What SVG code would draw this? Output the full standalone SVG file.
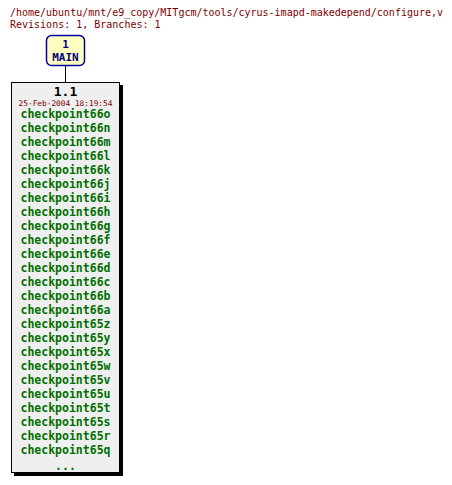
<svg xmlns="http://www.w3.org/2000/svg" width="452" height="485" viewBox="0 0 452 485">
<style>
.hdr{font-family:"DejaVu Sans Mono","Liberation Mono",monospace;font-size:10px;fill:#800000}
.tag{font-family:"DejaVu Sans Mono","Liberation Mono",monospace;font-weight:bold;font-size:11.5px;fill:#007000;text-anchor:middle}
.br{font-family:"DejaVu Sans Mono","Liberation Mono",monospace;font-weight:bold;font-size:11px;fill:#000080;text-anchor:middle}
</style>
<rect width="452" height="485" fill="#ffffff"/>
<text class="hdr" x="10" y="16" textLength="433" lengthAdjust="spacingAndGlyphs">/home/ubuntu/mnt/e9_copy/MITgcm/tools/cyrus-imapd-makedepend/configure,v</text>
<text class="hdr" x="10" y="28">Revisions: 1, Branches: 1</text>
<g id="connectors">
<line x1="65.5" y1="66" x2="65.5" y2="82" stroke="#000" stroke-width="1"/>
</g>
<g id="branch-main">
<rect x="46.5" y="35.5" width="38" height="30" rx="5" ry="5" fill="#ffffc0" stroke="#0000a0" stroke-width="1.5"/>
<text class="br" x="65.5" y="48">1</text>
<text class="br" x="65.5" y="61">MAIN</text>
</g>
<g id="rev-1.1">
<rect x="14" y="85" width="109" height="391" fill="#000"/>
<rect x="11.5" y="82.5" width="108" height="390" fill="#efefef" stroke="#000" stroke-width="1"/>
<text x="65.5" y="96" font-family="DejaVu Sans Mono,Liberation Mono,monospace" font-weight="bold" font-size="13" text-anchor="middle" fill="#000">1.1</text>
<text x="65.5" y="106" font-family="DejaVu Sans Mono,Liberation Mono,monospace" font-size="7.8" text-anchor="middle" fill="#800000">25-Feb-2004 18:19:54</text>
<text class="tag" x="65.5" y="118">checkpoint66o</text>
<text class="tag" x="65.5" y="132">checkpoint66n</text>
<text class="tag" x="65.5" y="146">checkpoint66m</text>
<text class="tag" x="65.5" y="160">checkpoint66l</text>
<text class="tag" x="65.5" y="174">checkpoint66k</text>
<text class="tag" x="65.5" y="188">checkpoint66j</text>
<text class="tag" x="65.5" y="202">checkpoint66i</text>
<text class="tag" x="65.5" y="216">checkpoint66h</text>
<text class="tag" x="65.5" y="230">checkpoint66g</text>
<text class="tag" x="65.5" y="244">checkpoint66f</text>
<text class="tag" x="65.5" y="258">checkpoint66e</text>
<text class="tag" x="65.5" y="272">checkpoint66d</text>
<text class="tag" x="65.5" y="286">checkpoint66c</text>
<text class="tag" x="65.5" y="300">checkpoint66b</text>
<text class="tag" x="65.5" y="314">checkpoint66a</text>
<text class="tag" x="65.5" y="328">checkpoint65z</text>
<text class="tag" x="65.5" y="342">checkpoint65y</text>
<text class="tag" x="65.5" y="356">checkpoint65x</text>
<text class="tag" x="65.5" y="370">checkpoint65w</text>
<text class="tag" x="65.5" y="384">checkpoint65v</text>
<text class="tag" x="65.5" y="398">checkpoint65u</text>
<text class="tag" x="65.5" y="412">checkpoint65t</text>
<text class="tag" x="65.5" y="426">checkpoint65s</text>
<text class="tag" x="65.5" y="440">checkpoint65r</text>
<text class="tag" x="65.5" y="454">checkpoint65q</text>
<text class="tag" x="65.5" y="470">...</text>
</g>
</svg>
